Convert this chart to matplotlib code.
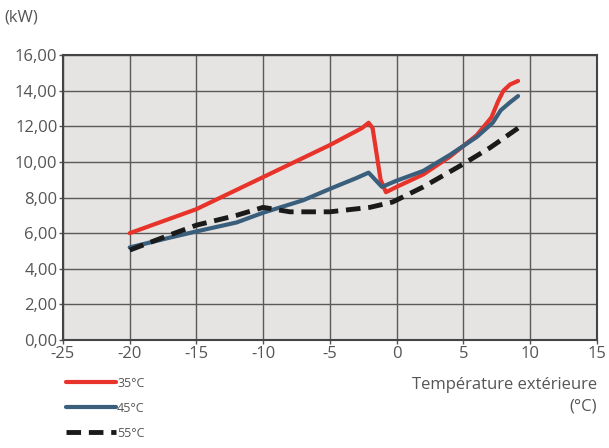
import matplotlib.pyplot as plt

temp_35 = [-20, -15, -10, -5, -2.6, -2.1, -1.8, -1.2, -0.8, 0, 2, 4, 6, 7.1, 7.6, 8.0, 8.5, 9.1]
kw_35 = [6.0, 7.35, 9.15, 10.95, 11.9, 12.2, 11.9, 9.0, 8.3, 8.6, 9.3, 10.3, 11.5, 12.5, 13.4, 14.0, 14.35, 14.55]

temp_45 = [-20, -17, -15, -12, -10, -7, -4.8, -3, -2.1, -1.6, -1.1, 0, 2, 4, 6, 7.2, 7.8, 8.5, 9.1]
kw_45 = [5.2, 5.75, 6.1, 6.6, 7.15, 7.85, 8.55, 9.1, 9.4, 9.0, 8.6, 8.95, 9.5, 10.4, 11.4, 12.2, 12.9, 13.35, 13.7]

temp_55 = [-20, -17, -15, -12, -10, -8, -5, -2, -0.3, 2, 4.8, 7, 9.1]
kw_55 = [5.05, 5.9, 6.45, 7.0, 7.45, 7.2, 7.2, 7.45, 7.75, 8.6, 9.8, 10.8, 11.9]

x_ticks = [-25, -20, -15, -10, -5, 0, 5, 10, 15]
y_ticks = [0, 2, 4, 6, 8, 10, 12, 14, 16]
y_labels = ["0,00", "2,00", "4,00", "6,00", "8,00", "10,00", "12,00", "14,00", "16,00"]

plt.rcParams['font.family'] = ['Open Sans', 'DejaVu Sans']
txt = '#555555'

fig = plt.figure(figsize=(6.09, 4.48), dpi=100)
ax = fig.add_axes([0.1034, 0.241, 0.8766, 0.636])
ax.set_facecolor('#e6e4e2')

ax.plot(temp_35, kw_35, color='#e8332a', lw=3, label='35°C', solid_capstyle='round')
ax.plot(temp_45, kw_45, color='#3a5f7d', lw=3, label='45°C', solid_capstyle='round')
ax.plot(temp_55, kw_55, color='#1a1a1a', lw=3.5, ls=(0, (3, 1.6)), label='55°C')

ax.set_xlim(-25, 15)
ax.set_ylim(0, 16)
ax.set_xticks(x_ticks)
ax.set_xticklabels([str(v) for v in x_ticks])
ax.set_yticks(y_ticks)
ax.set_yticklabels(y_labels)
ax.grid(True, color='#5a5a5a', lw=1)
ax.set_axisbelow(True)
for s in ax.spines.values():
    s.set_color('#444444')
    s.set_linewidth(1.5)
ax.tick_params(colors=txt, labelsize=12, length=3, width=1, pad=1)
for lab in ax.get_xticklabels() + ax.get_yticklabels():
    lab.set_color(txt)

fig.text(0.008, 0.96, '(kW)', color=txt, fontsize=12, va='center')
fig.text(0.98, 0.117, 'Température extérieure\n(°C)', color=txt, fontsize=12,
         ha='right', va='center', linespacing=1.5, multialignment='right')

leg = ax.legend(loc='upper left', frameon=False, fontsize=9, handlelength=4.0,
                handletextpad=0.1, labelspacing=0.95, borderaxespad=0)
for t in leg.get_texts():
    t.set_color(txt)
leg.set_bbox_to_anchor((0.1, 0.17), transform=fig.transFigure)

fig.savefig('out.png', dpi=100)
